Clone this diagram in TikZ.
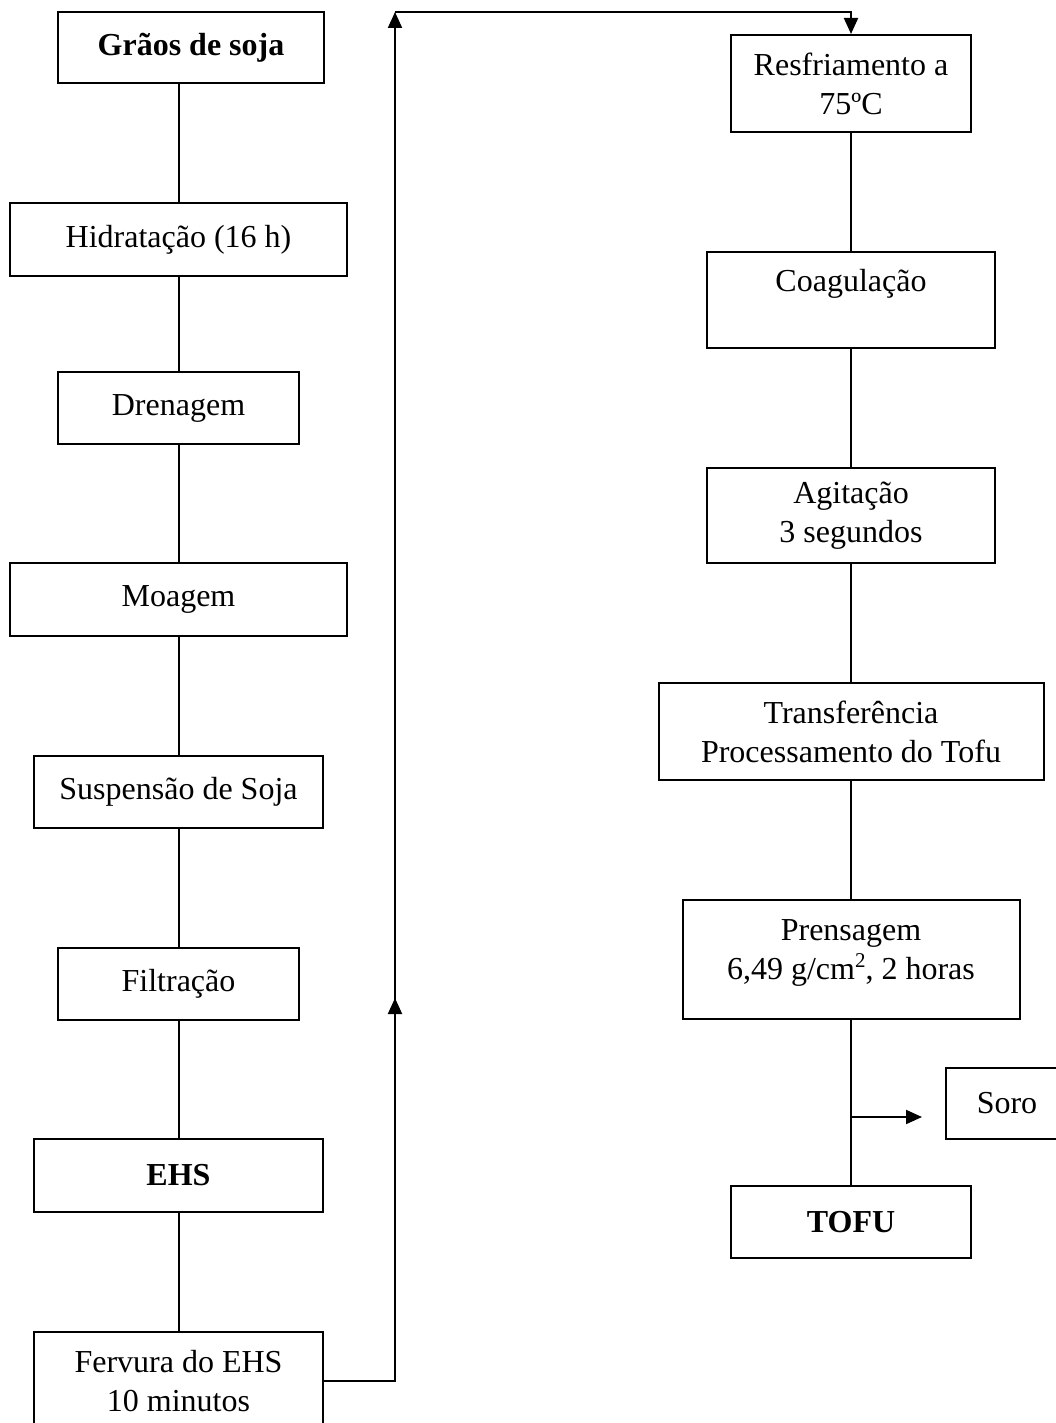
\documentclass[tikz,border=0pt]{standalone}
\usepackage{fontspec}
\setmainfont{Liberation Serif}
\usetikzlibrary{arrows.meta,calc}
\begin{document}
\begin{tikzpicture}[x=1pt,y=-1pt,
  stepbox/.style={draw,line width=2pt,inner sep=0pt,align=center,
    font=\fontsize{32}{39}\selectfont},
  conn/.style={line width=2pt},
  arr/.style={line width=2pt,-{Triangle[length=16pt,width=14pt]}}]
\clip (0,0) rectangle (1056,1423);
\useasboundingbox (0,0) rectangle (1056,1423);
% left column
\node[stepbox,minimum width=266pt,minimum height=71pt] (grao) at (191,47.5) {\textbf{Grãos de soja}};
\node[stepbox,minimum width=337pt,minimum height=73pt] (hid) at (178.5,239.5) {Hidratação (16 h)};
\node[stepbox,minimum width=241pt,minimum height=72pt] (dren) at (178.5,408) {Drenagem};
\node[stepbox,minimum width=337pt,minimum height=73pt] (moag) at (178.5,599.5) {Moagem};
\node[stepbox,minimum width=289pt,minimum height=72pt] (susp) at (178.5,792) {Suspensão de Soja};
\node[stepbox,minimum width=241pt,minimum height=72pt] (filt) at (178.5,984) {Filtração};
\node[stepbox,minimum width=289pt,minimum height=73pt] (ehs) at (178.5,1175.5) {\textbf{EHS}};
\node[stepbox,minimum width=289pt,minimum height=98pt] (ferv) at (178.5,1381) {Fervura do EHS\\10 minutos};
% right column
\node[stepbox,minimum width=240pt,minimum height=97pt] (resf) at (851,83.5) {Resfriamento a\\75ºC};
\node[stepbox,minimum width=288pt,minimum height=96pt] (coag) at (851,300) {Coagulação\\\mbox{}};
\node[stepbox,minimum width=288pt,minimum height=95pt] (agit) at (851,515.5) {Agitação\\3 segundos};
\node[stepbox,minimum width=385pt,minimum height=97pt] (trans) at (851,731.5) {Transferência\\Processamento do Tofu};
\node[stepbox,minimum width=337pt,minimum height=119pt] (pren) at (851,959.5) {Prensagem\\6,49 g/cm\raisebox{12pt}{\fontsize{21}{21}\selectfont 2}, 2 horas\\[-20pt]\mbox{}};
\node[stepbox,minimum width=122pt,minimum height=71pt] (soro) at (1007,1103.5) {Soro};
\node[stepbox,minimum width=240pt,minimum height=72pt] (tofu) at (851,1222) {\textbf{TOFU}};
% left connectors
\draw[conn] (grao.south -| hid.north) -- (hid.north);
\draw[conn] (hid) -- (dren);
\draw[conn] (dren) -- (moag);
\draw[conn] (moag) -- (susp);
\draw[conn] (susp) -- (filt);
\draw[conn] (filt) -- (ehs);
\draw[conn] (ehs) -- (ferv);
% feedback connector
\coordinate (corner) at (395,12);
\coordinate (midA) at (395,1020);
\coordinate (midB) at (395,998);
\draw[arr] (ferv.east) -| (corner);
\draw[arr] (corner) -| (resf.north);
\draw[arr] (midA) -- (midB);
% right connectors
\draw[conn] (resf) -- (coag);
\draw[conn] (coag) -- (agit);
\draw[conn] (agit) -- (trans);
\draw[conn] (trans) -- (pren);
\draw[conn] (pren) -- (tofu);
\coordinate (br) at (851,1117);
\draw[arr,shorten >=23pt] (br) -- (br -| soro.west);
\end{tikzpicture}
\end{document}
